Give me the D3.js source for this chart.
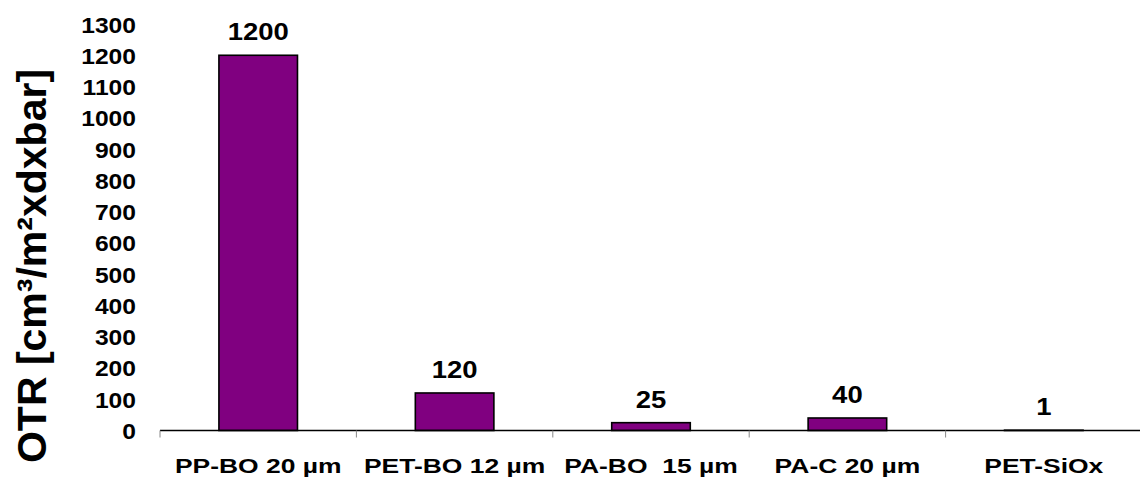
<!DOCTYPE html>
<html>
<head>
<meta charset="utf-8">
<script src="https://cdn.jsdelivr.net/npm/d3@7"></script>
<style>
  html, body { margin: 0; padding: 0; background: #fff; }
  svg { display: block; font-family: "Liberation Sans", Arial, sans-serif; font-weight: bold; }
</style>
</head>
<body>
<svg id="chart" width="1140" height="482"></svg>
<script>
// Oxygen transmission rate of packaging films
const categories = ["PP-BO 20 µm", "PET-BO 12 µm", "PA-BO  15 µm", "PA-C 20 µm", "PET-SiOx"];
const otrValues = [1200, 120, 25, 40, 1];
const valueLabels = ["1200", "120", "25", "40", "1"];
const yTicks = [0, 100, 200, 300, 400, 500, 600, 700, 800, 900, 1000, 1100, 1200, 1300];
const yTitle = "OTR [cm³/m²xdxbar]";

const svg = d3.select("#chart");
const W = 1140, H = 482;
const plotLeft = 160, plotRight = 1142, plotTop = 24, plotBottom = 430.5;

const x = d3.scaleBand()
  .domain(categories)
  .range([plotLeft, plotRight])
  .paddingInner(0.6)
  .paddingOuter(0.3);

const y = d3.scaleLinear()
  .domain([0, 1300])
  .range([plotBottom, plotTop]);

// category boundaries for the x tick marks
const boundaries = d3.range(categories.length).map(i => plotLeft + i * (plotRight - plotLeft) / categories.length);

// y tick labels (no axis line)
svg.append("g").selectAll("text")
  .data(yTicks)
  .join("text")
  .attr("transform", d => `translate(136,${y(d) + 8.5}) scale(1.12,1)`)
  .attr("text-anchor", "end")
  .attr("font-size", 22)
  .text(d3.format("d"));

// bars
svg.append("g").selectAll("rect")
  .data(otrValues)
  .join("rect")
  .attr("x", (d, i) => x(categories[i]))
  .attr("width", x.bandwidth())
  .attr("y", d => y(d))
  .attr("height", d => y(0) - y(d))
  .attr("fill", "#800080")
  .attr("stroke", "#000")
  .attr("stroke-width", 1.6);

// x axis line and tick marks
const gx = svg.append("g");
gx.append("line")
  .attr("x1", plotLeft).attr("x2", W)
  .attr("y1", y(0)).attr("y2", y(0))
  .attr("stroke", "#000").attr("stroke-width", 1.5);
gx.selectAll("line.tick")
  .data(boundaries)
  .join("line")
  .attr("class", "tick")
  .attr("x1", d => d).attr("x2", d => d)
  .attr("y1", y(0)).attr("y2", y(0) + 7)
  .attr("stroke", "#888").attr("stroke-width", 1);

// category labels
svg.append("g").selectAll("text")
  .data(categories)
  .join("text")
  .attr("transform", d => `translate(${x(d) + x.bandwidth() / 2},473) scale(1.26,1)`)
  .attr("text-anchor", "middle")
  .attr("font-size", 21)
  .style("white-space", "pre")
  .text(d => d);

// value labels above bars
svg.append("g").selectAll("text")
  .data(otrValues)
  .join("text")
  .attr("transform", (d, i) => `translate(${x(categories[i]) + x.bandwidth() / 2},${y(d) - 15}) scale(1.17,1)`)
  .attr("text-anchor", "middle")
  .attr("font-size", 23.5)
  .text((d, i) => valueLabels[i]);

// y axis title
svg.append("text")
  .attr("transform", "translate(46,266) rotate(-90)")
  .attr("text-anchor", "middle")
  .attr("font-size", 41)
  .text(yTitle);
</script>
</body>
</html>
